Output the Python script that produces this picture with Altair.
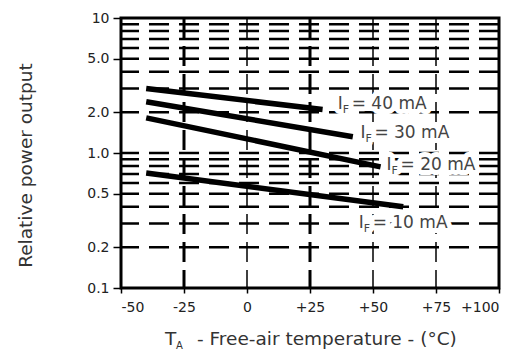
import altair as alt
import pandas as pd

# ---- data ----
currents = ["40 mA", "30 mA", "20 mA", "10 mA"]
t_start = [-40, -40, -40, -40]
t_end = [30, 42, 53, 62]
v_start = [3.0, 2.4, 1.82, 0.71]
v_end = [2.1, 1.32, 0.79, 0.40]

label_t = [36, 45, 55.4, 44.3]
label_v = [2.31, 1.40, 0.815, 0.302]

hgrid = [0.2, 0.3, 0.4, 0.5, 0.6, 0.7, 0.8, 0.9, 1, 2, 3, 4, 5, 6, 7, 8, 9]
vgrid_major = [-25, 25]
vgrid_minor = [0, 50, 75]

y_ticks = [0.1, 0.2, 0.5, 1, 2, 5, 10]
x_ticks = [-50, -25, 0, 25, 50, 75, 100]

FONT = "DejaVu Sans"

rows = []
for c, ts, te, vs, ve in zip(currents, t_start, t_end, v_start, v_end):
    rows.append({"current": c, "T": ts, "v": vs})
    rows.append({"current": c, "T": te, "v": ve})
curves = pd.DataFrame(rows)

labels = pd.DataFrame({
    "current": currents,
    "T": label_t,
    "v": label_v,
    "rest": ["= " + c for c in currents],
})

xscale = alt.Scale(domain=[-50, 100], nice=False, zero=False)
yscale = alt.Scale(type="log", domain=[0.1, 10], nice=False)

xaxis = alt.Axis(values=x_ticks, labelExpr="datum.value > 0 ? '+' + datum.value : '' + datum.value",
                 title=None, grid=False, domain=False, tickSize=5, tickColor="black",
                 tickWidth=1.5, labelFont=FONT, labelFontSize=14, labelColor="#222",
                 labelPadding=7)
yaxis = alt.Axis(values=y_ticks, labelExpr="datum.value >= 10 ? '10' : format(datum.value, '.1f')",
                 title="Relative power output", titleFont=FONT, titleFontSize=18.5,
                 titleFontWeight="normal", titleColor="#333", titleX=-96, titleY=147,
                 titleAngle=-90, titleAlign="center", titleBaseline="middle",
                 grid=False, domain=False, tickSize=8, tickColor="black", tickWidth=1.5,
                 labelFont=FONT, labelFontSize=14, labelColor="#222", labelPadding=4)

hg = alt.Chart(pd.DataFrame({"v": hgrid})).mark_rule(
    color="black", strokeWidth=2.5, strokeDash=[20, 10]
).encode(y=alt.Y("v:Q", scale=yscale, axis=yaxis))

vg1 = alt.Chart(pd.DataFrame({"T": vgrid_major})).mark_rule(
    color="black", strokeWidth=3, strokeDash=[20, 8]
).encode(x=alt.X("T:Q", scale=xscale, axis=xaxis))

vg2 = alt.Chart(pd.DataFrame({"T": vgrid_minor})).mark_rule(
    color="black", strokeWidth=1.5, strokeDash=[20, 8]
).encode(x=alt.X("T:Q", scale=xscale, axis=xaxis))

base_lab = alt.Chart(labels).encode(
    x=alt.X("T:Q", scale=xscale, axis=xaxis),
    y=alt.Y("v:Q", scale=yscale, axis=yaxis),
)

def label_layers(halo):
    kw = dict(font=FONT, align="left", baseline="middle")
    if halo:
        kw.update(stroke="white", strokeWidth=10, fill="white", strokeJoin="round",
                  strokeOpacity=1, opacity=1)
    else:
        kw.update(color="#444")
    l1 = base_lab.mark_text(fontSize=17, dx=0, **kw).encode(text=alt.value("I"))
    l2 = base_lab.mark_text(fontSize=11, dx=5, dy=6, **kw).encode(text=alt.value("F"))
    l3 = base_lab.mark_text(fontSize=17, dx=14, **kw).encode(text="rest:N")
    return [l1, l2, l3]

lines = alt.Chart(curves).mark_line(color="black", strokeWidth=5.5, strokeCap="butt").encode(
    x=alt.X("T:Q", scale=xscale, axis=xaxis),
    y=alt.Y("v:Q", scale=yscale, axis=yaxis),
    detail="current:N",
)

title_df = pd.DataFrame({"a": [0]})
t1 = alt.Chart(title_df).mark_text(font=FONT, fontSize=18.5, align="left", baseline="alphabetic",
                                   color="#333").encode(x=alt.value(44), y=alt.value(327), text=alt.value("T"))
t2 = alt.Chart(title_df).mark_text(font=FONT, fontSize=10, align="left", baseline="alphabetic",
                                   color="#333").encode(x=alt.value(55), y=alt.value(331), text=alt.value("A"))
t3 = alt.Chart(title_df).mark_text(font=FONT, fontSize=18.5, align="left", baseline="alphabetic",
                                   color="#333").encode(x=alt.value(76), y=alt.value(327),
                                                        text=alt.value("- Free-air temperature - (°C)"))

chart = alt.layer(
    hg, vg1, vg2, *label_layers(True), lines, *label_layers(False), t1, t2, t3
).properties(
    width=378, height=270,
    autosize=alt.AutoSizeParams(type="none"),
    padding={"left": 113, "top": 10, "right": 13, "bottom": 62},
).configure_view(stroke="black", strokeWidth=3)

chart.save("out.html", embed_options={"renderer": "svg", "actions": False})
